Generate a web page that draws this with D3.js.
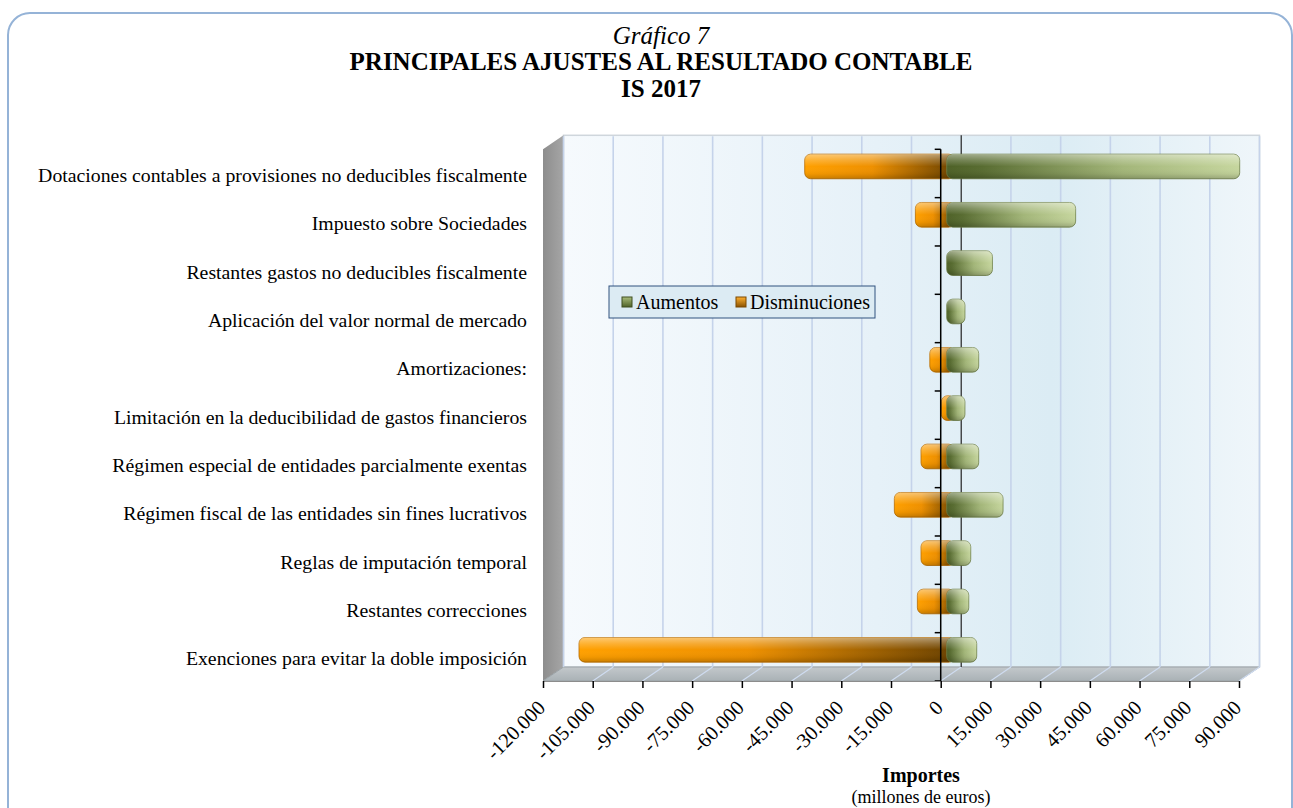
<!DOCTYPE html>
<html>
<head>
<meta charset="utf-8">
<script src="https://cdn.jsdelivr.net/npm/d3@7"></script>
<style>
  body { margin: 0; background: #fff; }
  svg { display: block; font-family: "Liberation Serif", "Times New Roman", serif; }
</style>
</head>
<body>
<svg id="chart" width="1293" height="808"></svg>
<script>
var categories = [
  "Dotaciones contables a provisiones no deducibles fiscalmente",
  "Impuesto sobre Sociedades",
  "Restantes gastos no deducibles fiscalmente",
  "Aplicación del valor normal de mercado",
  "Amortizaciones:",
  "Limitación en la deducibilidad de gastos financieros",
  "Régimen especial de entidades parcialmente exentas",
  "Régimen fiscal de las entidades sin fines lucrativos",
  "Reglas de imputación temporal",
  "Restantes correcciones",
  "Exenciones para evitar la doble imposición"
];
var aumentos = [88400, 38900, 13800, 5500, 9650, 5500, 9650, 17000, 7250, 6650, 9050];
var disminuciones = [-42850, -9450, 0, 0, -5100, -1600, -7750, -15800, -7750, -8850, -110950];
var xTicks = [-120000, -105000, -90000, -75000, -60000, -45000, -30000, -15000, 0, 15000, 30000, 45000, 60000, 75000, 90000];
var seriesNames = ["Aumentos", "Disminuciones"];

// plot geometry (front plane) and 3d depth offsets
var left = 543, right = 1239, top_ = 149.3, bottom = 681;
var dx = 20.5, dy = -14;      // back wall offset
var bdx = 6, bdy = -7;        // bars sit a bit into the depth

var svg = d3.select("#chart");
var defs = svg.append("defs");

var locale = d3.formatLocale({decimal: ",", thousands: ".", grouping: [3], currency: ["", "€"], minus: "-"});
var fmt = locale.format(",d");

var x = d3.scaleLinear().domain([-120000, 90000]).range([left, right]);
var y = d3.scaleBand().domain(categories).range([top_, bottom]).paddingInner(0.49).paddingOuter(0.245);
var step = y.step();

function grad(id, stops, vertical) {
  var g = defs.append("linearGradient").attr("id", id)
    .attr("x1", 0).attr("y1", 0).attr("x2", vertical ? 0 : 1).attr("y2", vertical ? 1 : 0);
  stops.forEach(function(s) {
    g.append("stop").attr("offset", s[0]).attr("stop-color", s[1]).attr("stop-opacity", s[2] == null ? 1 : s[2]);
  });
}
grad("wall", [[0, "#f6fafd"], [0.45, "#e6f1f8"], [0.7, "#dbecf4"], [1, "#eff6fa"]]);
grad("floor", [[0, "#c3c8cb"], [1, "#a9b1b5"]], true);
grad("side", [[0, "#8d8d8d"], [1, "#a6a6a6"]]);
grad("green", [[0, "#4e6127"], [0.12, "#586c31"], [0.6, "#a3b679"], [1, "#c6d69e"]]);
grad("orange", [[0, "#ffa000"], [0.45, "#ee9000"], [1, "#6a4100"]]);
grad("gloss", [[0, "#fff", 0.45], [0.25, "#fff", 0.2], [0.5, "#fff", 0], [0.8, "#000", 0.05], [1, "#000", 0.2]], true);
grad("legGreen", [[0, "#a9bd7c"], [1, "#4f6228"]], true);
grad("legOrange", [[0, "#ffb030"], [1, "#8a5200"]], true);

// outer frame
svg.append("rect")
  .attr("x", 8).attr("y", 13).attr("width", 1284).attr("height", 830).attr("rx", 22)
  .attr("fill", "none").attr("stroke", "#95b3d7").attr("stroke-width", 2);

// titles
var title = svg.append("g").attr("text-anchor", "middle");
title.append("text").attr("x", 661).attr("y", 44).attr("font-size", 25).attr("font-style", "italic").text("Gráfico 7");
title.append("text").attr("x", 661).attr("y", 70).attr("font-size", 25).attr("font-weight", "bold").text("PRINCIPALES AJUSTES AL RESULTADO CONTABLE");
title.append("text").attr("x", 661).attr("y", 97).attr("font-size", 25).attr("font-weight", "bold").text("IS 2017");

// back wall
svg.append("rect")
  .attr("x", left + dx).attr("y", top_ + dy).attr("width", right - left).attr("height", bottom - top_)
  .attr("fill", "url(#wall)").attr("stroke", "#cfd6dc").attr("stroke-width", 1.5);

// side wall and floor
svg.append("polygon")
  .attr("points", [[left, top_], [left + dx, top_ + dy], [left + dx, bottom + dy], [left, bottom]].join(" "))
  .attr("fill", "url(#side)");
svg.append("polygon")
  .attr("points", [[left, bottom], [left + dx, bottom + dy], [right + dx, bottom + dy], [right, bottom]].join(" "))
  .attr("fill", "url(#floor)").attr("stroke", "#9aa2a6").attr("stroke-width", 1);

// grid lines on the wall and the floor
svg.append("g").selectAll("line").data(xTicks.filter(function(d) { return d !== 0; })).join("line")
  .attr("x1", function(d) { return x(d) + dx; }).attr("x2", function(d) { return x(d) + dx; })
  .attr("y1", top_ + dy + 1).attr("y2", bottom + dy)
  .attr("stroke", "#c5d3ea").attr("stroke-width", 1.6);
svg.append("g").selectAll("line").data(xTicks.slice(1)).join("line")
  .attr("x1", function(d) { return x(d) + dx; }).attr("x2", function(d) { return x(d); })
  .attr("y1", bottom + dy).attr("y2", bottom)
  .attr("stroke", "#cfdcf0").attr("stroke-width", 1.2);
svg.append("line")
  .attr("x1", x(0) + dx).attr("x2", x(0) + dx).attr("y1", top_ + dy).attr("y2", bottom + dy)
  .attr("stroke", "#222").attr("stroke-width", 1.2);

// bars
var rows = categories.map(function(c, i) { return {cat: c, up: aumentos[i], down: disminuciones[i]}; });
var bars = svg.append("g");
var x0 = x(0) + bdx;
var bh = y.bandwidth();

var neg = bars.selectAll("g.neg").data(rows.filter(function(d) { return d.down < 0; })).join("g").attr("class", "neg");
neg.append("rect")
  .attr("x", function(d) { return x(d.down) + bdx; })
  .attr("y", function(d) { return y(d.cat) + bdy; })
  .attr("width", function(d) { return x0 - x(d.down) - bdx + 8; })
  .attr("height", bh).attr("rx", 6)
  .attr("fill", "url(#orange)").attr("stroke", "#b86c00").attr("stroke-width", 0.8);
neg.append("rect")
  .attr("x", function(d) { return x(d.down) + bdx; })
  .attr("y", function(d) { return y(d.cat) + bdy; })
  .attr("width", function(d) { return x0 - x(d.down) - bdx + 8; })
  .attr("height", bh).attr("rx", 6)
  .attr("fill", "url(#gloss)");

var pos = bars.selectAll("g.pos").data(rows).join("g").attr("class", "pos");
pos.append("rect")
  .attr("x", x0)
  .attr("y", function(d) { return y(d.cat) + bdy; })
  .attr("width", function(d) { return x(d.up) - x(0); })
  .attr("height", bh).attr("rx", 6)
  .attr("fill", "url(#green)").attr("stroke", "#6f8048").attr("stroke-width", 0.8);
pos.append("rect")
  .attr("x", x0)
  .attr("y", function(d) { return y(d.cat) + bdy; })
  .attr("width", function(d) { return x(d.up) - x(0); })
  .attr("height", bh).attr("rx", 6)
  .attr("fill", "url(#gloss)");

// front vertical axis with category ticks
var bounds = categories.map(function(c) { return y(c) - (step - bh) / 2; }).concat([bottom]);
svg.append("line")
  .attr("x1", x(0)).attr("x2", x(0)).attr("y1", top_).attr("y2", bottom)
  .attr("stroke", "#000").attr("stroke-width", 1.5);
svg.append("g").selectAll("line").data(bounds).join("line")
  .attr("x1", x(0) - 6).attr("x2", x(0)).attr("y1", function(d) { return d; }).attr("y2", function(d) { return d; })
  .attr("stroke", "#000").attr("stroke-width", 1.5);

// category labels
svg.append("g").selectAll("text").data(categories).join("text")
  .attr("x", 527).attr("y", function(d) { return y(d) + bh / 2 + 1.5; })
  .attr("dy", "0.35em").attr("text-anchor", "end").attr("font-size", 19.8).attr("fill", "#000")
  .text(function(d) { return d; });

// bottom axis
var xAxis = d3.axisBottom(x).tickValues(xTicks).tickFormat(fmt).tickSize(7).tickSizeOuter(0);
var ax = svg.append("g").attr("transform", "translate(0," + bottom + ")").call(xAxis);
ax.select(".domain").attr("stroke", "#8c8c8c").attr("stroke-width", 1.2);
ax.selectAll(".tick line").attr("stroke", "#000").attr("stroke-width", 1.5);
ax.selectAll(".tick text")
  .attr("font-family", "Liberation Serif, Times New Roman, serif").attr("font-size", 20.5).attr("fill", "#000")
  .attr("text-anchor", "end").attr("y", 0).attr("dy", 0)
  .attr("transform", "translate(3,28) rotate(-45)");

svg.append("text").attr("x", 921).attr("y", 782).attr("text-anchor", "middle")
  .attr("font-size", 20).attr("font-weight", "bold").text("Importes");
svg.append("text").attr("x", 921).attr("y", 803).attr("text-anchor", "middle")
  .attr("font-size", 18).text("(millones de euros)");

// legend
var leg = svg.append("g").attr("transform", "translate(609,286)");
leg.append("rect").attr("width", 266).attr("height", 32)
  .attr("fill", "#dcebf3").attr("stroke", "#31527f").attr("stroke-width", 1);
var items = leg.selectAll("g").data(seriesNames).join("g")
  .attr("transform", function(d, i) { return "translate(" + [13, 127][i] + ",0)"; });
items.append("rect").attr("x", 0).attr("y", 11).attr("width", 10).attr("height", 10)
  .attr("fill", function(d, i) { return i ? "url(#legOrange)" : "url(#legGreen)"; })
  .attr("stroke", function(d, i) { return i ? "#7a4800" : "#3f4f20"; }).attr("stroke-width", 1);
items.append("text").attr("x", 14).attr("y", 16).attr("dy", "0.35em")
  .attr("font-size", 20).text(function(d) { return d; });
</script>
</body>
</html>
